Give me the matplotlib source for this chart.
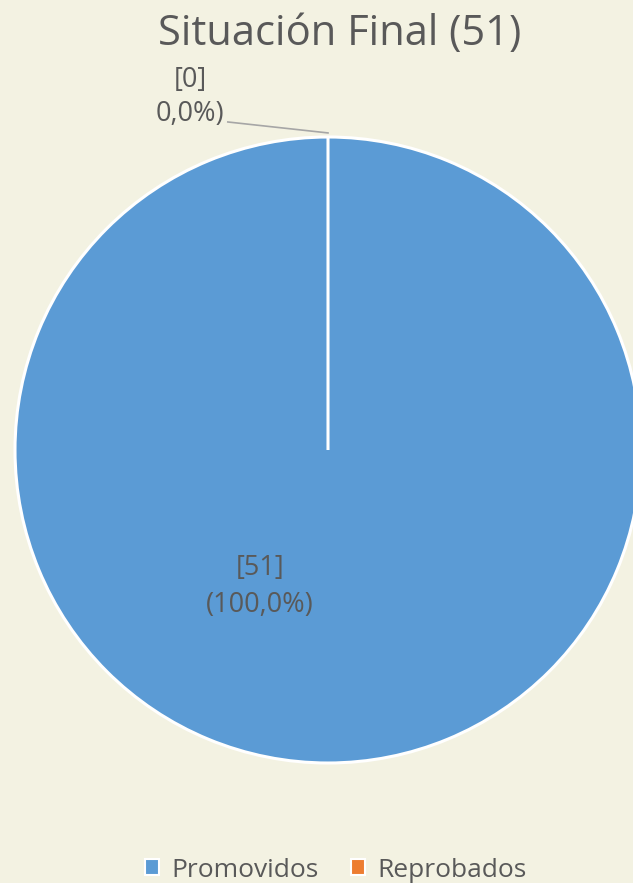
import matplotlib.pyplot as plt
from matplotlib.patches import Patch

plt.rcParams['font.family'] = ['Open Sans', 'DejaVu Sans']

labels = ['Promovidos', 'Reprobados']
values = [51, 0]
colors = ['#5B9BD5', '#ED7D31']
title = 'Situación Final (51)'
bg = '#F3F2E2'
txt = '#595959'

total = sum(values)

fig = plt.figure(figsize=(6.33, 8.83), dpi=100)
fig.patch.set_facecolor(bg)
# axes box matches the pie circle in the picture
ax = fig.add_axes([15 / 633, 120 / 883, 626 / 633, 626 / 883])
ax.set_facecolor(bg)
ax.pie(values, colors=colors, startangle=90, counterclock=False, radius=1,
       wedgeprops=dict(edgecolor='white', linewidth=2.2))
ax.set_xlim(-1, 1)
ax.set_ylim(-1, 1)
ax.set_aspect('equal')
ax.axis('off')

pct = [v / total * 100 for v in values]
ax.text(-0.217, -0.435, '[%d]\n(%s%%)' % (values[0], f'{pct[0]:.1f}'.replace('.', ',')),
        ha='center', va='center', fontsize=19.5, color=txt, linespacing=1.42)
ax.text(-0.44, 1.128, '[%d]\n%s%%)' % (values[1], f'{pct[1]:.1f}'.replace('.', ',')),
        ha='center', va='center', fontsize=19.5, color=txt, linespacing=1.3,
        clip_on=False)
ax.plot([-0.32, 0], [1.048, 1.013], color='#A6A6A6', lw=1.2, clip_on=False)

fig.text(0.537, 0.962, title, ha='center', va='center', fontsize=30, color=txt)

handles = [Patch(facecolor=c, edgecolor='white', linewidth=1.5) for c in colors]
fig.legend(handles, labels, loc='center', bbox_to_anchor=(0.530, 0.0145), ncol=2,
           frameon=False, fontsize=19, labelcolor=txt, handlelength=0.55,
           handleheight=0.55, handletextpad=0.45, columnspacing=1.23)

fig.savefig('out.png', dpi=100, facecolor=bg)
